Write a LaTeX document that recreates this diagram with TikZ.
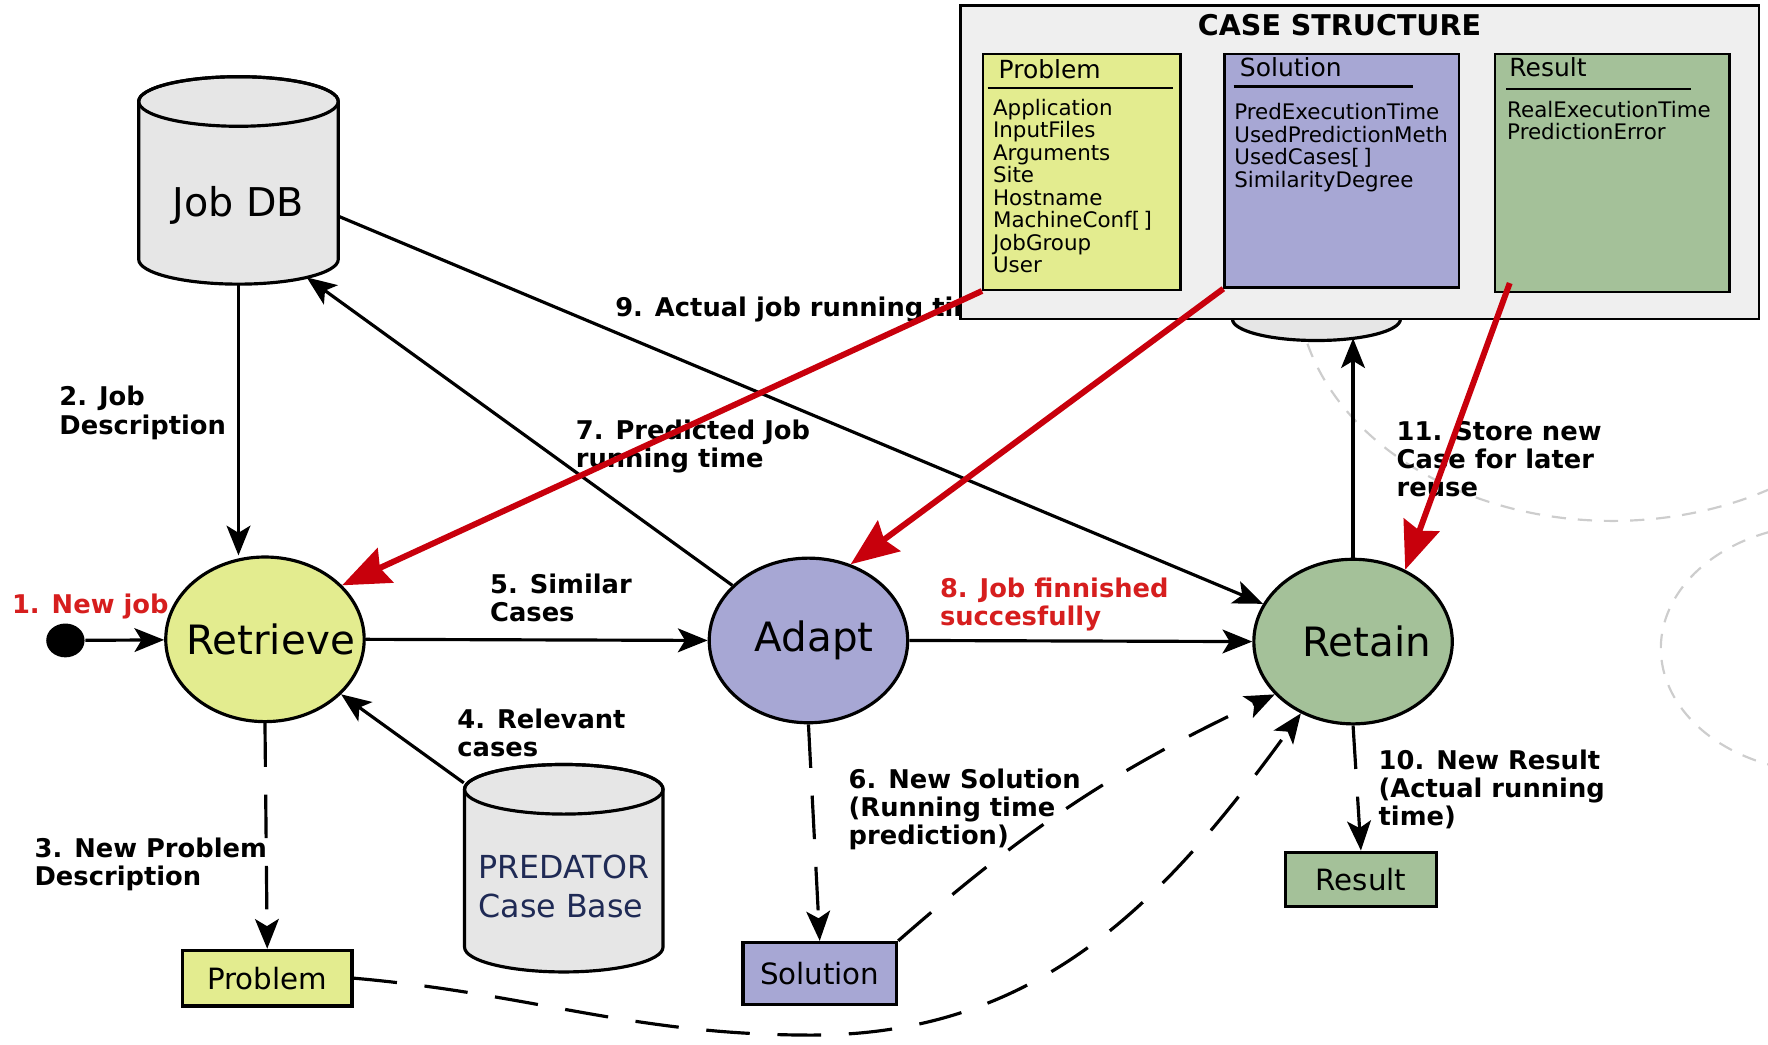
\documentclass[tikz,border=0pt]{standalone}
\usepackage{fontspec}
\setmainfont{DejaVu Sans}
\usepackage{xcolor}
\usetikzlibrary{positioning,calc,shapes.geometric,arrows.meta}
\definecolor{cbrYellowFill}{HTML}{E3EC8F}
\definecolor{cbrBlueFill}{HTML}{A7A7D4}
\definecolor{cbrGreenFill}{HTML}{A4C199}
\definecolor{cbrDbFill}{HTML}{E6E6E6}
\definecolor{cbrCaseFill}{HTML}{EFEFEF}
\definecolor{cbrRedLine}{HTML}{C8000C}
\definecolor{cbrRedText}{HTML}{D61E1E}
\definecolor{cbrRingLine}{HTML}{CDCDCD}
\definecolor{cbrBaseText}{HTML}{1F2A55}

\tikzset{
  phase/.style={ellipse, draw, line width=0.8pt, minimum width=17.6mm,
    minimum height=14.6mm, inner sep=0pt},
  phasetext/.style={font=\fontsize{10.2}{12}\selectfont},
  artefact/.style={rectangle, draw, line width=0.9pt, inner sep=0pt,
    font=\fontsize{7.4}{9}\selectfont},
  flow/.style={line width=0.8pt, -{Stealth[length=7.5pt, width=6pt, inset=1.8pt]}},
  dashflow/.style={flow, dash pattern=on 11pt off 7pt},
  caselink/.style={cbrRedLine, line width=1.5pt,
    -{Stealth[length=12pt, width=9.5pt, inset=1.5pt]}},
  steplabel/.style={anchor=north west, inner sep=0pt, align=left,
    font=\fontsize{6.5}{7.1}\selectfont\bfseries},
  ring/.style={cbrRingLine, line width=0.55pt, dash pattern=on 3.6pt off 3pt},
  casecol/.style={draw, line width=0.6pt, inner sep=0pt},
  colhead/.style={anchor=west, inner sep=0pt, font=\fontsize{6.3}{7}\selectfont},
  colitems/.style={anchor=north west, inner sep=0pt, align=left,
    font=\fontsize{5.4}{5.69}\selectfont},
}

% cylinder: centre x, top y, bottom y, x radius, y radius (y counted downwards)
\newcommand\dbcylinder[5]{%
  \filldraw[fill=cbrDbFill, draw=black, line width=0.8pt]
    ({#1-#4},{-(#2+#5)}) -- ({#1-#4},{-(#3-#5)})
    arc[start angle=180, end angle=360, x radius={#4*0.1mm}, y radius={#5*0.1mm}]
    -- ({#1+#4},{-(#2+#5)})
    arc[start angle=0, end angle=180, x radius={#4*0.1mm}, y radius={#5*0.1mm}]
    -- cycle;
  \draw[line width=0.8pt] ({#1},{-(#2+#5)})
    ellipse[x radius={#4*0.1mm}, y radius={#5*0.1mm}];
}

\begin{document}
\begin{tikzpicture}[x=0.1mm, y=0.1mm]

\useasboundingbox (0,0) rectangle (1568,-926);

% --- BACKGROUND RINGS ---
\draw[ring] ([shift={(195:28mm and 21.2mm)}]1430,-250)
  arc[start angle=195, end angle=300, x radius=28mm, y radius=21.2mm];
\draw[ring] ([shift={(110:14.7mm and 11mm)}]1620,-575)
  arc[start angle=110, end angle=250, x radius=14.7mm, y radius=11mm];

% --- DATABASES ---
\dbcylinder{1167.5}{150}{302}{74.5}{19}
\coordinate (store) at (1200,-300);

\dbcylinder{211.5}{68}{252}{88.5}{22}
\node[inner sep=0pt, minimum width=17.7mm, minimum height=14mm,
      font=\fontsize{10}{12}\selectfont] (jobdb) at (211.5,-182) {Job DB};
\coordinate (jobdbfoot) at (272,-246);

\dbcylinder{500}{678}{862}{88}{22}
\node[inner sep=0pt, minimum width=17.6mm, minimum height=15.2mm, align=left,
      text=cbrBaseText, font=\fontsize{8}{9.7}\selectfont] (casebase) at (500,-786)
  {PREDATOR\\Case Base};

% --- CBR PHASES ---
\node[ellipse, fill=black, minimum width=3.4mm, minimum height=3mm,
      inner sep=0pt] (start) at (58,-568) {};
\node[phase, fill=cbrYellowFill, label={[phasetext, xshift=0.5mm]center:Retrieve}]
  (retrieve) at (235,-567) {};
\node[phase, fill=cbrBlueFill, label={[phasetext, xshift=0.5mm]center:Adapt}]
  (adapt) at (717,-568) {};
\node[phase, fill=cbrGreenFill, label={[phasetext, xshift=1.2mm]center:Retain}]
  (retain) at (1200,-569) {};

% --- ARTEFACTS ---
\node[artefact, fill=cbrYellowFill, minimum width=15mm, minimum height=4.9mm]
  (problem) at (237,-867.5) {Problem};
\node[artefact, fill=cbrBlueFill, minimum width=13.6mm, minimum height=5.5mm]
  (solution) at (727,-863.5) {Solution};
\node[artefact, fill=cbrGreenFill, minimum width=13.4mm, minimum height=4.8mm]
  (result) at (1207,-780) {Result};

% --- FLOWS ---
\draw[flow] (start) -- (retrieve);
\draw[flow] (jobdb.south) -- (jobdb.south |- retrieve.north);
\draw[dashflow] (retrieve.south) -- (problem.north);
\draw[flow] ([yshift=1.5mm]casebase.north west) -- (retrieve);
\draw[flow] (retrieve.east) -- (adapt.west);
\draw[dashflow] (adapt.south) -- (solution.north);
\draw[flow] (adapt) -- (jobdbfoot);
\draw[flow] (adapt.east) -- (retain.west);
\draw[flow] ([yshift=-1mm]jobdb.east) -- (retain);
\draw[dashflow] (retain.south) -- (result.north);
\draw[flow] (retain.north) -- (store);
\draw[dashflow] (solution.north east) to[bend left=8] (retain.214);
\draw[dashflow] (problem.east) to[out=-5, in=180] (720,-918)
  to[out=0, in=234] (retain.234);

% --- STEP LABELS ---
\node[steplabel, text=cbrRedText] (lbl1) at (10,-526) {1. New job};
\node[steplabel] (lbl2) at (52,-342) {2. Job\\Description};
\node[steplabel] (lbl3) at (30,-742) {3. New Problem\\Description};
\node[steplabel] (lbl4) at (405,-628) {4. Relevant\\cases};
\node[steplabel] (lbl5) at (434,-508) {5. Similar\\Cases};
\node[steplabel] (lbl6) at (752,-681) {6. New Solution\\(Running time\\prediction)};
\node[steplabel] (lbl7) at (510,-372) {7. Predicted Job\\running time};
\node[steplabel, text=cbrRedText] (lbl8) at (833,-512) {8. Job finnished\\succesfully};
\node[steplabel] (lbl9) at (545,-263) {9. Actual job running time};
\node[steplabel] (lbl10) at (1222,-664) {10. New Result\\(Actual running\\time)};
\node[steplabel] (lbl11) at (1238,-373) {11. Store new\\Case for later\\reuse};

% --- CASE STRUCTURE ---
\node[draw, line width=0.7pt, fill=cbrCaseFill, inner sep=0pt,
      minimum width=70.8mm, minimum height=27.8mm] (casestruct) at (1206,-144) {};
\node[font=\fontsize{7.2}{8}\selectfont\bfseries] (casetitle) at (1188,-22)
  {CASE STRUCTURE};

\node[casecol, fill=cbrYellowFill, minimum width=17.5mm, minimum height=20.9mm]
  (probcol) at (959.5,-152.5) {};
\node[casecol, fill=cbrBlueFill, minimum width=20.8mm, minimum height=20.7mm]
  (solcol) at (1190,-151.5) {};
\node[casecol, fill=cbrGreenFill, minimum width=20.8mm, minimum height=21.1mm]
  (rescol) at (1430,-153.5) {};

\node[colhead] (probhead) at (885,-61) {Problem};
\draw[line width=0.7pt] (876,-78) -- (1040,-78);
\node[colitems] (probitems) at (880,-87)
  {Application\\InputFiles\\Arguments\\Site\\Hostname\\MachineConf[\,]\\JobGroup\\User};

\node[colhead] (solhead) at (1099,-60) {Solution};
\draw[line width=0.7pt] (1094,-77) -- (1253,-77);
\node[colitems] (solitems) at (1094,-91)
  {PredExecutionTime\\UsedPredictionMeth\\UsedCases[\,]\\SimilarityDegree};

\node[colhead] (reshead) at (1338,-60) {Result};
\draw[line width=0.7pt] (1336,-79) -- (1500,-79);
\node[colitems] (resitems) at (1336,-89)
  {RealExecutionTime\\PredictionError};

% --- CASE LINKS (red) ---
\draw[caselink] (probcol.south west) -- (retrieve.35);
\draw[caselink] (solcol.south west) -- (adapt.61);
\draw[caselink] ([xshift=1.4mm, yshift=0.9mm]rescol.south west) -- (retain.54);

\end{tikzpicture}
\end{document}
